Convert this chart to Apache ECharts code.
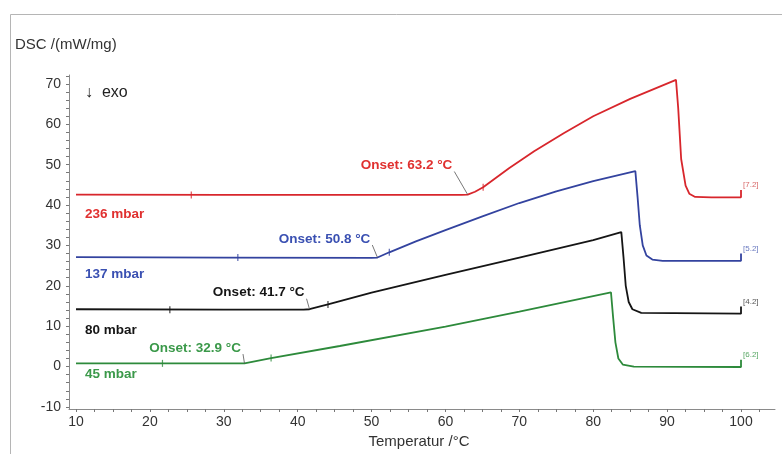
<!DOCTYPE html>
<html>
<head>
<meta charset="utf-8" />
<script src="https://cdn.jsdelivr.net/npm/echarts@6/dist/echarts.min.js"></script>
</head>
<body style="margin:0;background:#fff">
<div id="container" style="width:782px;height:454px"></div>
<script>
// DSC curves, [temperature °C, DSC mW/mg]
const curve236 = [[10, 42.6], [30, 42.5], [50, 42.5], [62.2, 42.5], [63.0, 42.6], [64.0, 43.3], [65.1, 44.4], [68.6, 49.1], [72, 53.3], [76, 57.8], [80, 62.0], [85, 66.3], [91.2, 71.0], [91.5, 64], [91.9, 51.4], [92.5, 44.8], [93.0, 42.8], [93.8, 42.0], [96, 41.9], [100, 41.9], [100, 43.7]];
const curve137 = [[10, 27.1], [30, 27.0], [50, 26.9], [50.8, 27.0], [52.4, 28.3], [56, 31.0], [60, 33.8], [65, 37.2], [70, 40.5], [75, 43.4], [80, 45.9], [85.7, 48.4], [86.0, 42], [86.3, 35], [86.7, 30], [87.2, 27.5], [88, 26.5], [89.4, 26.2], [100, 26.2], [100, 28.0]];
const curve80 = [[10, 14.2], [30, 14.1], [40.8, 14.1], [41.6, 14.2], [44.1, 15.4], [50, 18.3], [60, 22.7], [70, 27.0], [80, 31.3], [83.8, 33.3], [84.1, 27], [84.4, 20], [84.8, 16], [85.3, 14.2], [86.5, 13.3], [100, 13.1], [100, 14.9]];
const curve45 = [[10, 0.8], [30, 0.8], [32.8, 0.8], [36.4, 2.1], [45.7, 5.1], [60, 9.9], [70, 13.6], [82.4, 18.4], [82.7, 12], [83.0, 6], [83.4, 2], [84, 0.5], [85.5, 0], [100, -0.1], [100, 1.7]];

// small cursor ticks on each curve
const ticks236 = [[25.6, 42.5], [65.1, 44.4]];
const ticks137 = [[31.9, 27.0], [52.4, 28.3]];
const ticks80 = [[22.7, 14.1], [44.1, 15.4]];
const ticks45 = [[21.7, 0.8], [36.4, 2.1]];

// onset annotations: label anchor and onset point
const onsetText = ['Onset: 63.2 °C', 'Onset: 50.8 °C', 'Onset: 41.7 °C', 'Onset: 32.9 °C'];
const onsetFrom = [[61.2, 48.3], [50.1, 30.1], [41.2, 16.8], [32.6, 3.1]];
const onsetTo = [[63.0, 42.6], [50.8, 27.0], [41.6, 14.2], [32.8, 0.8]];

const pressures = ['236 mbar', '137 mbar', '80 mbar', '45 mbar'];
const pressurePos = [[11.2, 37.6], [11.2, 22.9], [11.2, 9.1], [11.2, -1.9]];
const segTags = ['[7.2]', '[5.2]', '[4.2]', '[6.2]'];

const xLabels = [10, 20, 30, 40, 50, 60, 70, 80, 90, 100];
const yLabels = [-10, 0, 10, 20, 30, 40, 50, 60, 70];
const xTicks = [];
for (let t = 10; t <= 102.5; t += 2.5) xTicks.push(t);
const yTicks = [];
for (let t = -10; t <= 72; t += 2) yTicks.push(t);

const curves = [curve236, curve137, curve80, curve45];
const marks = [ticks236, ticks137, ticks80, ticks45];
const lineColors = ['#d8262c', '#33439f', '#151515', '#2d8a3b'];
const textColors = ['#e0302f', '#3a50b2', '#151515', '#3b994a'];
const tagColors = ['#d86a6a', '#6a7ac0', '#555555', '#5aa866'];

const font = 'Liberation Sans, Arial, sans-serif';

const chart = echarts.init(document.getElementById('container'), null, { renderer: 'canvas' });

const series = [];
curves.forEach((c, i) => {
  const end = c[c.length - 1];
  series.push({
    type: 'line',
    data: c,
    showSymbol: false,
    smooth: false,
    lineStyle: { color: lineColors[i], width: 1.8 },
    itemStyle: { color: lineColors[i] },
    z: 3,
    markLine: {
      silent: true,
      symbol: ['none', 'none'],
      label: { show: false },
      lineStyle: { color: '#555', width: 0.8, type: 'solid' },
      data: [[{ coord: onsetFrom[i] }, { coord: onsetTo[i] }]]
    },
    markPoint: {
      silent: true,
      symbol: 'circle',
      symbolSize: 0,
      data: [
        {
          coord: onsetFrom[i],
          label: { show: true, position: 'inside', align: 'right', offset: [-2, -6], formatter: onsetText[i], color: textColors[i], fontSize: 13.5, fontWeight: 'bold', fontFamily: font }
        },
        {
          coord: pressurePos[i],
          label: { show: true, position: 'inside', align: 'left', formatter: pressures[i], color: textColors[i], fontSize: 13.5, fontWeight: 'bold', fontFamily: font }
        },
        {
          coord: end,
          label: { show: true, position: 'inside', align: 'left', offset: [2, -5], formatter: segTags[i], color: tagColors[i], fontSize: 8, fontFamily: font }
        }
      ]
    }
  });
  series.push({
    type: 'scatter',
    data: marks[i],
    symbol: 'rect',
    symbolSize: [1.2, 7],
    itemStyle: { color: lineColors[i] },
    silent: true,
    z: 4
  });
});

const option = {
  animation: false,
  backgroundColor: '#fff',
  grid: { left: 69, right: 7, top: 75, bottom: 44 },
  xAxis: {
    type: 'value',
    min: 9.05,
    max: 104.6,
    axisLine: { onZero: false, lineStyle: { color: '#8a8a8a', width: 1 } },
    axisTick: { show: true, length: 3, customValues: xTicks, lineStyle: { color: '#777' } },
    axisLabel: { customValues: xLabels, color: '#333', fontSize: 14, fontFamily: font, margin: 6 },
    splitLine: { show: false },
    name: 'Temperatur /°C',
    nameLocation: 'middle',
    nameGap: 25,
    nameTextStyle: { color: '#333', fontSize: 15, fontFamily: font, padding: [0, 0, 0, -6] }
  },
  yAxis: {
    type: 'value',
    min: -10.5,
    max: 72.2,
    axisLine: { show: true, lineStyle: { color: '#8a8a8a', width: 1 } },
    axisTick: { show: true, length: 3, customValues: yTicks, lineStyle: { color: '#777' } },
    axisLabel: { customValues: yLabels, color: '#333', fontSize: 14, fontFamily: font, margin: 8 },
    splitLine: { show: false }
  },
  graphic: [
    { type: 'rect', left: 8, top: 12, shape: { width: 800, height: 500 }, style: { fill: 'none', stroke: '#b5b5b5', lineWidth: 1 }, silent: true },
    { type: 'text', left: 15, top: 37, style: { text: 'DSC /(mW/mg)', fill: '#333', font: '15px ' + font } },
    { type: 'text', left: 85, top: 85, style: { text: '↓  exo', fill: '#222', font: '16px ' + font } }
  ],
  series: series
};

chart.setOption(option);
</script>
</body>
</html>
